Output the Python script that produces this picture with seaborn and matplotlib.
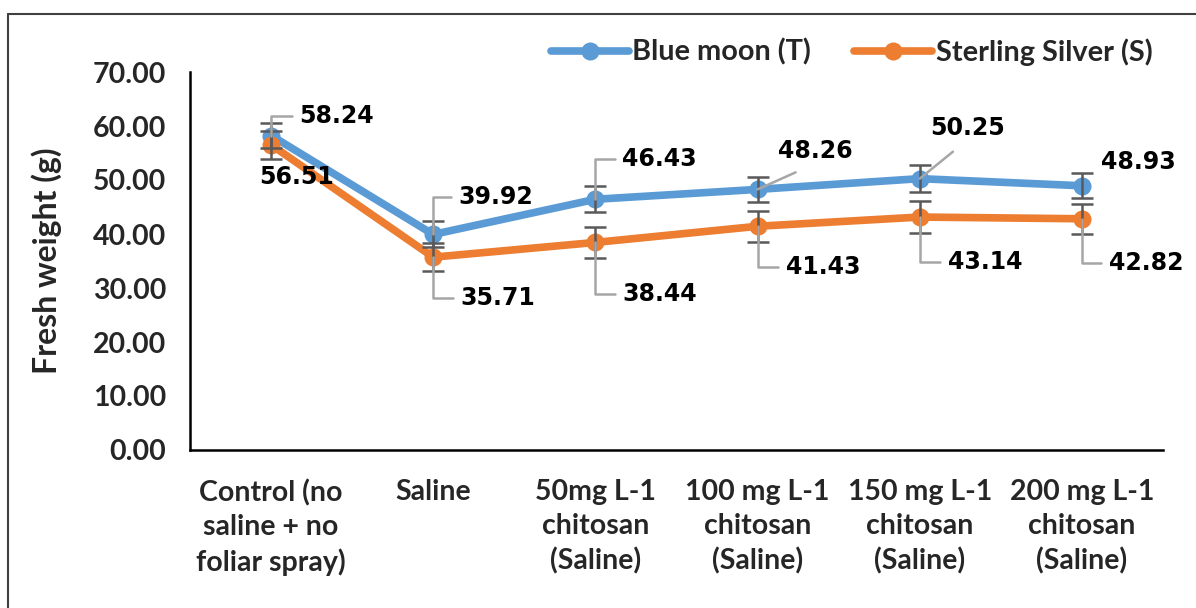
import numpy as np
import pandas as pd
import seaborn as sns
from matplotlib import pyplot as plt
from matplotlib.lines import Line2D

categories = ['Control (no\nsaline + no\nfoliar spray)', 'Saline', '50mg L-1\nchitosan\n(Saline)',
              '100 mg L-1\nchitosan\n(Saline)', '150 mg L-1\nchitosan\n(Saline)', '200 mg L-1\nchitosan\n(Saline)']
blue_moon = [58.24, 39.92, 46.43, 48.26, 50.25, 48.93]
sterling = [56.51, 35.71, 38.44, 41.43, 43.14, 42.82]
blue_err = [2.3, 2.4, 2.4, 2.3, 2.5, 2.3]
sterling_err = [2.6, 2.6, 2.8, 2.9, 2.9, 2.8]
series_names = ['Blue moon (T)', 'Sterling Silver (S)']

sns.set_style('white')
plt.rcParams['font.family'] = ['Lato', 'DejaVu Sans']
plt.rcParams['font.weight'] = 'bold'
plt.rcParams['axes.labelweight'] = 'bold'

df = pd.DataFrame({
    'pos': list(range(len(categories))) * 2,
    'weight': blue_moon + sterling,
    'variety': [series_names[0]] * len(categories) + [series_names[1]] * len(categories),
})

fig = plt.figure(figsize=(11.96, 6.08), dpi=100)
ax = fig.add_axes([190/1196, 1-450/608, 973/1196, 378/608])

palette = {series_names[0]: '#5B9BD5', series_names[1]: '#ED7D31'}
sns.lineplot(data=df, x='pos', y='weight', hue='variety', palette=palette, marker='o',
             markersize=13, markeredgewidth=0, linewidth=5.5, ax=ax, zorder=3)

xs = np.arange(len(categories))
ax.errorbar(xs, blue_moon, yerr=blue_err, fmt='none', ecolor='#595959', elinewidth=1.8,
            capsize=8, capthick=1.8, zorder=4)
ax.errorbar(xs, sterling, yerr=sterling_err, fmt='none', ecolor='#595959', elinewidth=1.8,
            capsize=8, capthick=1.8, zorder=4)

ax.set_xlim(-0.5, len(categories) - 0.5)
ax.set_ylim(0, 70)
ax.set_yticks(np.arange(0, 71, 10))
ax.set_yticklabels([f'{v:.2f}' for v in np.arange(0, 71, 10)], fontsize=20.5, fontweight='bold')
ax.set_xticks(xs)
ax.set_xticklabels(categories, fontsize=20.5, fontweight='bold', linespacing=1.38)
ax.tick_params(axis='y', length=0, pad=17)
ax.tick_params(axis='x', length=0, pad=21)
ax.set_xlabel('')
ax.set_ylabel('Fresh weight (g)', fontsize=23, fontweight='bold')
ax.yaxis.set_label_coords((62 - 190) / 973, 0.5)
for s in ['top', 'right']:
    ax.spines[s].set_visible(False)
for s in ['left', 'bottom']:
    ax.spines[s].set_color('black')
    ax.spines[s].set_linewidth(1.8)

# data labels with leader lines (offsets in pixels from the point)
lead = dict(arrowstyle='-', color='#A6A6A6', lw=1.8, shrinkB=0)
lbl = dict(fontsize=17, fontweight='bold', family='DejaVu Sans', color='black')

def elbow(x, y, dx, dy):
    ax.annotate(f'{y:.2f}', xy=(x, y), xytext=(dx, dy), textcoords='offset pixels',
                ha='left', va='center', zorder=5,
                arrowprops=dict(connectionstyle='angle,angleA=0,angleB=90,rad=0', relpos=(0, 0.5), shrinkA=3, **lead), **lbl)

def diag(x, y, dx, dy):
    ax.annotate(f'{y:.2f}', xy=(x, y), xytext=(dx, dy), textcoords='offset pixels',
                ha='center', va='bottom', zorder=5,
                arrowprops=dict(connectionstyle='arc3', relpos=(0.5, 0), shrinkA=10, **lead), **lbl)

def plain(x, y, dx, dy, ha='left'):
    ax.annotate(f'{y:.2f}', xy=(x, y), xytext=(dx, dy), textcoords='offset pixels',
                ha=ha, va='center', zorder=5, **lbl)

elbow(0, blue_moon[0], 28, 20)
plain(0, sterling[0], 25, -32, ha='center')
elbow(1, blue_moon[1], 25, 37)
elbow(1, sterling[1], 27, -41)
elbow(2, blue_moon[2], 27, 40)
elbow(2, sterling[2], 27, -52)
diag(3, blue_moon[3], 58, 26)
elbow(3, sterling[3], 28, -41)
diag(4, blue_moon[4], 48, 39)
elbow(4, sterling[4], 28, -45)
plain(5, blue_moon[5], 19, 24)
elbow(5, sterling[5], 27, -44)

leg = ax.legend(loc='center right', bbox_to_anchor=(1164/1196, 1-52/608), bbox_transform=fig.transFigure,
                ncol=2, frameon=False, handlelength=2.7, handletextpad=0.12, borderaxespad=0,
                columnspacing=1.5, prop={'weight': 'bold', 'size': 20.8})
for h in leg.get_lines():
    h.set_linewidth(5.5)
    h.set_markersize(13)

# chart frame (only top and left edges inside the picture)
fig.add_artist(Line2D([8/1196, 1], [1-14/608, 1-14/608], transform=fig.transFigure, color='#404040', lw=1.5))
fig.add_artist(Line2D([8/1196, 8/1196], [0, 1-14/608], transform=fig.transFigure, color='#404040', lw=1.5))

fig.savefig('out.png', dpi=100)
